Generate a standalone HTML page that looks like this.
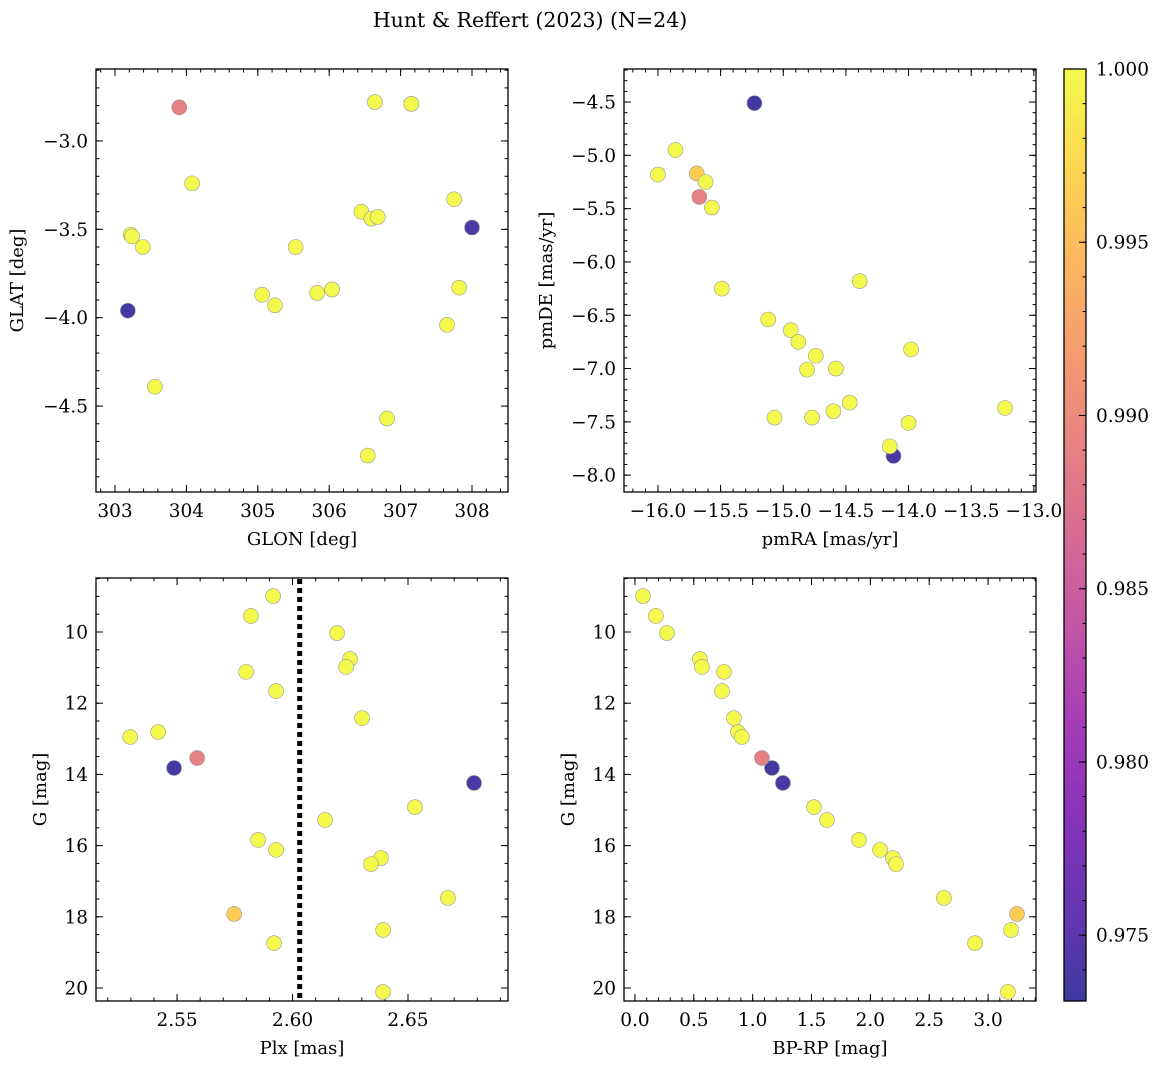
<!DOCTYPE html>
<html><head><meta charset="utf-8"><style>
html,body{margin:0;padding:0;background:#fff;}
svg{display:block;font-family:"DejaVu Serif","Liberation Serif",serif;}
</style></head><body>
<svg id="fig" width="1161" height="1068" viewBox="0 0 1161 1068" xmlns="http://www.w3.org/2000/svg">
<text x="530" y="27" font-size="20.5" text-anchor="middle">Hunt &amp; Reffert (2023) (N=24)</text>
</svg>
<script>
// star data (ordered by G)
const gmag = [8.99,9.55,10.03,10.76,10.98,11.12,11.66,12.42,12.81,12.95,13.54,13.82,14.24,14.92,15.28,15.84,16.12,16.35,16.52,17.47,17.92,18.74,18.37,20.11];
const bprp = [0.068,0.178,0.272,0.552,0.569,0.756,0.739,0.841,0.875,0.909,1.079,1.164,1.257,1.521,1.631,1.903,2.082,2.192,2.218,2.625,3.246,2.889,3.195,3.169];
const plx = [2.5916,2.5820,2.6193,2.6249,2.6232,2.5799,2.5929,2.6301,2.5418,2.5297,2.5587,2.5487,2.6786,2.6530,2.6141,2.5851,2.5929,2.6383,2.6340,2.6673,2.5747,2.5920,2.6392,2.6392];
const glon = [306.64,307.15,304.08,303.22,303.24,303.39,303.56,305.53,305.06,305.24,303.90,303.18,308.0,305.83,306.04,306.45,306.59,306.68,307.75,307.82,307.15,307.65,306.81,306.54];
const glat = [-2.78,-2.79,-3.24,-3.53,-3.54,-3.60,-4.39,-3.60,-3.87,-3.93,-2.81,-3.96,-3.49,-3.86,-3.84,-3.40,-3.44,-3.43,-3.33,-3.83,-2.79,-4.04,-4.57,-4.78];
const pmra = [-15.86,-16.0,-15.62,-15.57,-15.49,-15.12,-14.94,-14.88,-14.74,-14.81,-15.67,-15.23,-14.12,-14.58,-14.39,-13.98,-15.07,-14.77,-14.60,-14.47,-15.69,-14.15,-14.0,-13.23];
const pmde = [-4.95,-5.18,-5.25,-5.49,-6.25,-6.54,-6.64,-6.75,-6.88,-7.01,-5.39,-4.51,-7.82,-7.0,-6.18,-6.82,-7.46,-7.46,-7.40,-7.32,-5.17,-7.73,-7.51,-7.37];
const prob = [1,1,1,1,1,1,1,1,1,1,0.989,0.9735,0.974,1,1,1,1,1,1,1,0.9962,1,1,1];
const plxMean = [2.6031];
const cbTicks = [0.975,0.980,0.985,0.990,0.995,1.000];
const cbMin = 0.9731, cbMax = 1.0;

const NS = "http://www.w3.org/2000/svg";
const svg = document.getElementById('fig');
function mk(tag, attrs, parent){const e=document.createElementNS(NS,tag);for(const k in attrs)e.setAttribute(k,attrs[k]);(parent||svg).appendChild(e);return e;}

const stops=[[13,8,135],[65,4,157],[106,0,168],[143,13,164],[177,42,144],[204,71,120],[225,100,98],[242,132,75],[252,166,54],[252,206,37],[240,249,33]];
function plasma(t){t=Math.max(0,Math.min(1,t));const f=t*10;const i=Math.min(9,Math.floor(f));const r=f-i;
  const c=stops[i].map((v,k)=>v+(stops[i+1][k]-v)*r);
  const a=0.8;return 'rgb('+c.map(v=>Math.round(v*a+255*(1-a))).join(',')+')';}
function fmt(v,d){const s=Math.abs(v).toFixed(d);return (v<-1e-9?'\u2212':'')+s;}

const FS=18.5;
function panel(name,L,T,W,H,xr,yr,xmaj,xmin,ymaj,ymin,xd,yd,xs,ys,xlabel,ylabel,ylabx,yinv){
  const g=mk('g',{});
  
  
  const X=v=>L+(v-xr[0])/(xr[1]-xr[0])*W;
  const Y=yinv? v=>T+(v-yr[0])/(yr[1]-yr[0])*H : v=>T+H-(v-yr[0])/(yr[1]-yr[0])*H;
  const tk=mk('g',{stroke:'#000','stroke-width':1},g);
  
  
  function ticks(step,len,axis,labels,dec){
    const r=axis==='x'?xr:yr;const s=Math.ceil(r[0]/step-1e-6);const e=Math.floor(r[1]/step+1e-6);
    for(let i=s;i<=e;i++){const v=+(i*step).toFixed(6);
      if(axis==='x'){const x=X(v);mk('line',{x1:x,x2:x,y1:T+H,y2:T+H-len},tk);mk('line',{x1:x,x2:x,y1:T,y2:T+len},tk);
        if(labels){const t=mk('text',{x:x,y:T+H+25,'font-size':FS,'text-anchor':'middle',stroke:'none',fill:'#000'},g);t.textContent=fmt(v,dec);
          
          }}
      else{const y=Y(v);mk('line',{x1:L,x2:L+len,y1:y,y2:y},tk);mk('line',{x1:L+W,x2:L+W-len,y1:y,y2:y},tk);
        if(labels){const t=mk('text',{x:L-8,y:y+6.5,'font-size':FS,'text-anchor':'end',stroke:'none',fill:'#000'},g);t.textContent=fmt(v,dec);
          
          }}
    }}
  ticks(xmin,3.5,'x',false);ticks(xmaj,7,'x',true,xd);ticks(ymin,3.5,'y',false);ticks(ymaj,7,'y',true,yd);
  const order=xs.map((_,i)=>i).sort((a,b)=>prob[a]-prob[b]);
  const pts=mk('g',{},g);
  
  
  order.forEach(i=>{const c=mk('circle',{cx:X(xs[i]),cy:Y(ys[i]),r:7.5,fill:plasma((prob[i]-cbMin)/(cbMax-cbMin)),stroke:'#999','stroke-width':0.6},pts);
    
    });
  const fr=mk('rect',{x:L,y:T,width:W,height:H,fill:'none',stroke:'#000','stroke-width':1.3},g);
  
  
  const xl=mk('text',{x:L+W/2,y:T+H+53,'font-size':18,'text-anchor':'middle'},g);xl.textContent=xlabel;
  
  
  const yl=mk('text',{x:ylabx,y:T+H/2,'font-size':18,'text-anchor':'middle',transform:'rotate(-90 '+ylabx+' '+(T+H/2)+')'},g);yl.textContent=ylabel;
  
  
  return {X,Y,g};
}

panel('glon-glat-panel',96,69,412,423,[302.734,308.504],[-4.986,-2.593],1,0.2,0.5,0.1,0,1,glon,glat,'GLON [deg]','GLAT [deg]',23,false);
panel('pm-panel',624,69,412,423,[-16.271,-12.983],[-8.158,-4.19],0.5,0.1,0.5,0.1,1,1,pmra,pmde,'pmRA [mas/yr]','pmDE [mas/yr]',552,false);
const p3=panel('plx-g-panel',96,578,412,423,[2.5149,2.6933],[8.483,20.365],0.05,0.01,2,0.5,2,0,plx,gmag,'Plx [mas]','G [mag]',46,true);
const dl=mk('line',{x1:p3.X(plxMean[0]),x2:p3.X(plxMean[0]),y1:579,y2:1000,stroke:'#000','stroke-width':5,'stroke-dasharray':'5 4'},p3.g);


panel('cmd-panel',624,578,412,423,[-0.093,3.407],[8.483,20.365],0.5,0.1,2,0.5,1,0,bprp,gmag,'BP-RP [mag]','G [mag]',574,true);

// colorbar
const cb=mk('g',{});


const defs=mk('defs',{},cb);
const lg=mk('linearGradient',{id:'cbg',x1:0,y1:1,x2:0,y2:0},defs);
for(let i=0;i<=20;i++){mk('stop',{offset:i/20,'stop-color':plasma(i/20)},lg);}
const cbL=1064,cbT=69,cbW=22,cbH=932;
mk('rect',{x:cbL,y:cbT,width:cbW,height:cbH,fill:'url(#cbg)'},cb);
mk('rect',{x:cbL,y:cbT,width:cbW,height:cbH,fill:'none',stroke:'#000','stroke-width':1.3},cb);
const CY=v=>cbT+cbH-(v-cbMin)/(cbMax-cbMin)*cbH;
for(let v=0.974;v<=1.00001;v+=0.001){const y=CY(v);mk('line',{x1:cbL+cbW,x2:cbL+cbW-3.5,y1:y,y2:y,stroke:'#000'},cb);}
cbTicks.forEach(v=>{const y=CY(v);mk('line',{x1:cbL+cbW,x2:cbL+cbW-7,y1:y,y2:y,stroke:'#000'},cb);
  const t=mk('text',{x:cbL+cbW+10,y:y+6.5,'font-size':FS},cb);t.textContent=v.toFixed(3);
  
  });
</script>
</body></html>
